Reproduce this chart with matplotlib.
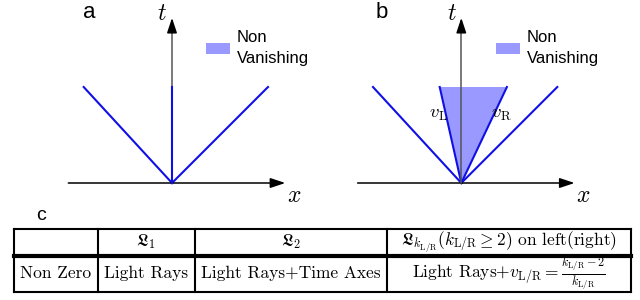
import matplotlib
matplotlib.use("Agg")
import matplotlib.pyplot as plt
from matplotlib.patches import Patch, Polygon

plt.rcParams["font.family"] = ["Liberation Sans", "DejaVu Sans"]
plt.rcParams["mathtext.fontset"] = "cm"

# light cone data (x reached at t = t_top), in units of t
light_left = -0.92
light_right = 1.0
t_top = 1.0
v_left = -0.225
v_right = 0.475
x_axis_span = (-1.08, 1.18)
t_axis_top = 1.72

legend_label = "Non\nVanishing"
panel_labels = ["a", "b", "c"]

table_header = [
    "",
    r"$\mathfrak{L}_1$",
    r"$\mathfrak{L}_2$",
    r"$\mathfrak{L}_{k_{\mathrm{L/R}}}(k_{\mathrm{L/R}}\geq 2)$ on left(right)",
]
table_row = [
    "Non Zero",
    "Light Rays",
    "Light Rays+Time Axes",
    r"Light Rays+$v_{\mathrm{L/R}}=\frac{k_{\mathrm{L/R}}-2}{k_{\mathrm{L/R}}}$",
]

# layout (figure pixels)
W, H = 640, 300
SCALE = 96.0
col_edges = [13.5, 98, 194.5, 387, 631]
row_edges = [228.5, 255.5, 291.5]

RAY = "#1010e6"
FILL = "#9999ff"


def panel_axes(fig, ox, oy):
    """Full-figure axes whose data origin sits at pixel (ox, oy)."""
    ax = fig.add_axes([0, 0, 1, 1])
    ax.set_xlim(-ox / SCALE, (W - ox) / SCALE)
    ax.set_ylim(-(H - oy) / SCALE, oy / SCALE)
    ax.axis("off")
    return ax


def draw_panel(ax, filled, fig, legend_xy):
    head = dict(arrowstyle="-|>,head_length=0.45,head_width=0.15",
                mutation_scale=20, shrinkA=0, shrinkB=0)
    ax.annotate("", xy=(x_axis_span[1], 0), xytext=(x_axis_span[0], 0),
                arrowprops=dict(head, color="black", lw=1.1))
    ax.plot([0, 0], [0, t_axis_top - 0.1], color="#555555", lw=1.1, zorder=3)
    ax.annotate("", xy=(0, t_axis_top), xytext=(0, t_axis_top - 0.12),
                arrowprops=dict(head, color="black", lw=1.1))

    ax.plot([0, light_left * t_top], [0, t_top], color=RAY, lw=1.5)
    ax.plot([0, light_right * t_top], [0, t_top], color=RAY, lw=1.5)
    if filled:
        ax.add_patch(Polygon([(0, 0), (v_left * t_top, t_top), (v_right * t_top, t_top)],
                             closed=True, facecolor=FILL, edgecolor="none", zorder=1))
        ax.plot([0, v_left * t_top], [0, t_top], color=RAY, lw=1.5, zorder=2)
        ax.plot([0, v_right * t_top], [0, t_top], color=RAY, lw=1.5, zorder=2)
        ax.text(v_left * 0.72 - 0.075, 0.71, r"$v_{\mathrm{L}}$", fontsize=13.5,
                ha="center", va="center")
        ax.text(v_right * 0.72 + 0.08, 0.71, r"$v_{\mathrm{R}}$", fontsize=13.5,
                ha="center", va="center")
    else:
        ax.plot([0, 0], [0, t_top], color=RAY, lw=1.5, zorder=4)

    ax.text(-0.1, 1.70, r"$t$", fontsize=17, ha="center", va="baseline")
    ax.text(1.2, -0.02, r"$x$", fontsize=17, ha="left", va="top")

    leg = ax.legend(handles=[Patch(facecolor=FILL, edgecolor="none")],
                    labels=[legend_label], loc="upper left",
                    bbox_to_anchor=(legend_xy[0] / W, 1 - legend_xy[1] / H),
                    bbox_transform=fig.transFigure, frameon=False, borderpad=0,
                    borderaxespad=0, handlelength=1.45, handleheight=0.65,
                    handletextpad=0.4, fontsize=12, labelspacing=0)
    leg.get_texts()[0].set_linespacing(1.5)


fig = plt.figure(figsize=(6.4, 3.0), dpi=100)

ax_a = panel_axes(fig, 172, 183)
draw_panel(ax_a, False, fig, (206, 30))
ax_b = panel_axes(fig, 461.3, 183)
draw_panel(ax_b, True, fig, (496, 30))

frame = fig.add_axes([0, 0, 1, 1])
frame.set_xlim(0, W)
frame.set_ylim(H, 0)
frame.axis("off")

frame.text(89, 13, panel_labels[0], fontsize=16, ha="center", va="center")
frame.text(381.5, 12, panel_labels[1], fontsize=16, ha="center", va="center")
frame.text(41, 216, panel_labels[2], fontsize=14, ha="center", va="center")

# table grid
for i, y in enumerate(row_edges):
    frame.plot([col_edges[0], col_edges[-1]], [y, y], color="black",
               lw=3 if i == 1 else 1.5, solid_capstyle="projecting")
for x in col_edges:
    frame.plot([x, x], [row_edges[0], row_edges[-1]], color="black", lw=1.5,
               solid_capstyle="projecting")

for r, cells in enumerate([table_header, table_row]):
    yc = (row_edges[r] + row_edges[r + 1]) / 2
    for c, txt in enumerate(cells):
        xc = (col_edges[c] + col_edges[c + 1]) / 2
        frame.text(xc, yc, txt, fontsize=12.5, ha="center", va="center",
                   family="cmr10")

fig.savefig("out.png", dpi=100)
